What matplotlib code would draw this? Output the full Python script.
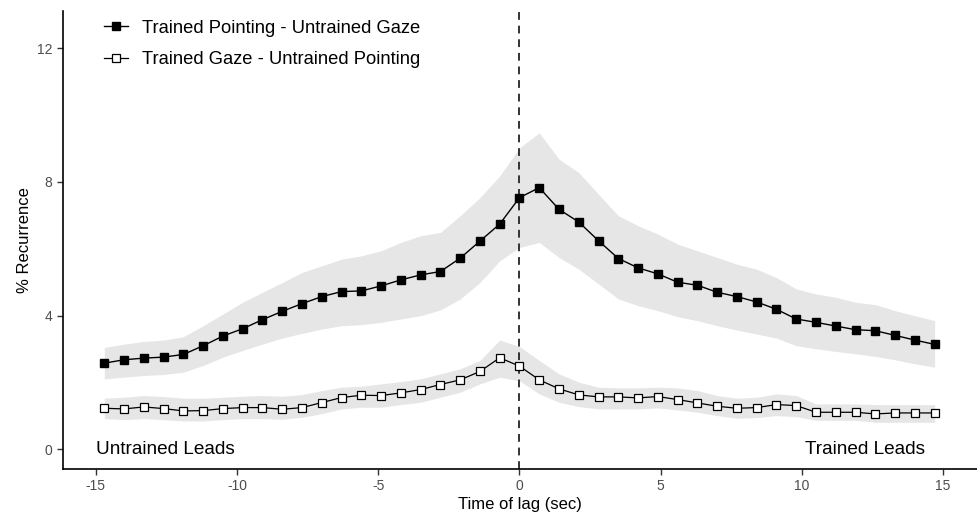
import numpy as np
import matplotlib
matplotlib.use("Agg")
import matplotlib.pyplot as plt

plt.rcParams['font.family'] = ['Liberation Sans', 'DejaVu Sans']
plt.rcParams['axes.unicode_minus'] = False

lag = np.round(np.arange(-21, 22) * 0.7, 2)

pointing_mean = [2.58, 2.68, 2.73, 2.76, 2.84, 3.10, 3.39, 3.61, 3.88, 4.13, 4.36,
                 4.57, 4.72, 4.74, 4.89, 5.07, 5.22, 5.32, 5.72, 6.23, 6.74, 7.53,
                 7.83, 7.18, 6.80, 6.24, 5.71, 5.43, 5.25, 5.00, 4.91, 4.70, 4.57,
                 4.41, 4.19, 3.90, 3.80, 3.69, 3.58, 3.55, 3.41, 3.27, 3.14]
pointing_upper = [3.05, 3.15, 3.23, 3.27, 3.37, 3.70, 4.05, 4.40, 4.70, 4.99, 5.29,
                  5.49, 5.69, 5.79, 5.94, 6.19, 6.39, 6.49, 6.99, 7.53, 8.18, 9.02,
                  9.47, 8.68, 8.28, 7.63, 6.99, 6.69, 6.44, 6.14, 5.94, 5.74, 5.54,
                  5.39, 5.14, 4.80, 4.65, 4.55, 4.40, 4.33, 4.15, 4.00, 3.85]
pointing_lower = [2.11, 2.16, 2.21, 2.24, 2.31, 2.51, 2.76, 2.96, 3.15, 3.33, 3.47,
                  3.60, 3.70, 3.73, 3.80, 3.90, 4.00, 4.17, 4.50, 4.99, 5.64, 6.04,
                  6.19, 5.74, 5.39, 4.95, 4.50, 4.30, 4.15, 3.97, 3.85, 3.70, 3.57,
                  3.45, 3.33, 3.10, 3.01, 2.93, 2.86, 2.78, 2.68, 2.56, 2.46]

gaze_mean = [1.23, 1.21, 1.27, 1.22, 1.15, 1.16, 1.22, 1.25, 1.25, 1.20, 1.25,
             1.40, 1.55, 1.62, 1.61, 1.69, 1.79, 1.94, 2.08, 2.33, 2.74, 2.49,
             2.08, 1.81, 1.63, 1.57, 1.57, 1.54, 1.58, 1.49, 1.39, 1.29, 1.23,
             1.25, 1.34, 1.31, 1.11, 1.11, 1.11, 1.06, 1.09, 1.09, 1.09]
gaze_upper = [1.53, 1.56, 1.61, 1.58, 1.53, 1.53, 1.56, 1.59, 1.61, 1.59, 1.64,
              1.76, 1.86, 1.89, 1.96, 2.03, 2.11, 2.26, 2.41, 2.66, 3.27, 3.08,
              2.66, 2.26, 2.01, 1.86, 1.84, 1.84, 1.86, 1.84, 1.76, 1.61, 1.53,
              1.56, 1.66, 1.61, 1.36, 1.36, 1.36, 1.34, 1.34, 1.34, 1.34]
gaze_lower = [0.92, 0.89, 0.92, 0.89, 0.85, 0.85, 0.89, 0.92, 0.92, 0.90, 0.96,
              1.07, 1.21, 1.26, 1.26, 1.34, 1.41, 1.56, 1.71, 1.96, 2.16, 2.05,
              1.66, 1.41, 1.28, 1.21, 1.21, 1.21, 1.24, 1.18, 1.11, 1.01, 0.93,
              0.95, 1.01, 0.98, 0.87, 0.87, 0.87, 0.81, 0.81, 0.81, 0.81]

series_labels = ["Trained Pointing - Untrained Gaze", "Trained Gaze - Untrained Pointing"]
x_ticks = [-15, -10, -5, 0, 5, 10, 15]
y_ticks = [0, 4, 8, 12]

fig = plt.figure(figsize=(9.77, 5.14), dpi=100)
ax = fig.add_axes([0.064, 0.088, 0.936, 0.891])

band_color = '#e6e6e6'
ax.fill_between(lag, pointing_lower, pointing_upper, color=band_color, lw=0, zorder=1)
ax.fill_between(lag, gaze_lower, gaze_upper, color=band_color, lw=0, zorder=1)

ax.axvline(0, color='#333333', lw=1.4, ls=(0, (4, 3)), zorder=2)

ax.plot(lag, pointing_mean, color='black', lw=1.0, marker='s', ms=5.8,
        mfc='black', mec='black', label=series_labels[0], zorder=3)
ax.plot(lag, gaze_mean, color='black', lw=0.9, marker='s', ms=5.2,
        mfc='white', mec='black', mew=0.9, label=series_labels[1], zorder=3)

ax.set_xlim(-16.18, 16.2)
ax.set_ylim(-0.58, 13.12)
ax.set_xticks(x_ticks)
ax.set_yticks(y_ticks)
ax.tick_params(axis='both', colors='#4d4d4d', labelsize=10, length=4, width=1.0)
ax.tick_params(axis='both', which='both', color='#333333')

for s in ['top', 'right']:
    ax.spines[s].set_visible(False)
for s in ['left', 'bottom']:
    ax.spines[s].set_linewidth(1.2)
    ax.spines[s].set_color('black')

ax.set_xlabel("Time of lag (sec)", fontsize=12, labelpad=3)
ax.set_ylabel("% Recurrence", fontsize=12, labelpad=3)

ax.text(-15.0, 0, "Untrained Leads", fontsize=13.7, va='center', ha='left')
ax.text(14.35, 0, "Trained Leads", fontsize=13.7, va='center', ha='right')

leg = ax.legend(loc='upper left', bbox_to_anchor=(0.027, 1.017), frameon=False,
                fontsize=13.2, handlelength=1.3, handletextpad=0.78, labelspacing=0.8)

fig.savefig("out.png", dpi=100)
